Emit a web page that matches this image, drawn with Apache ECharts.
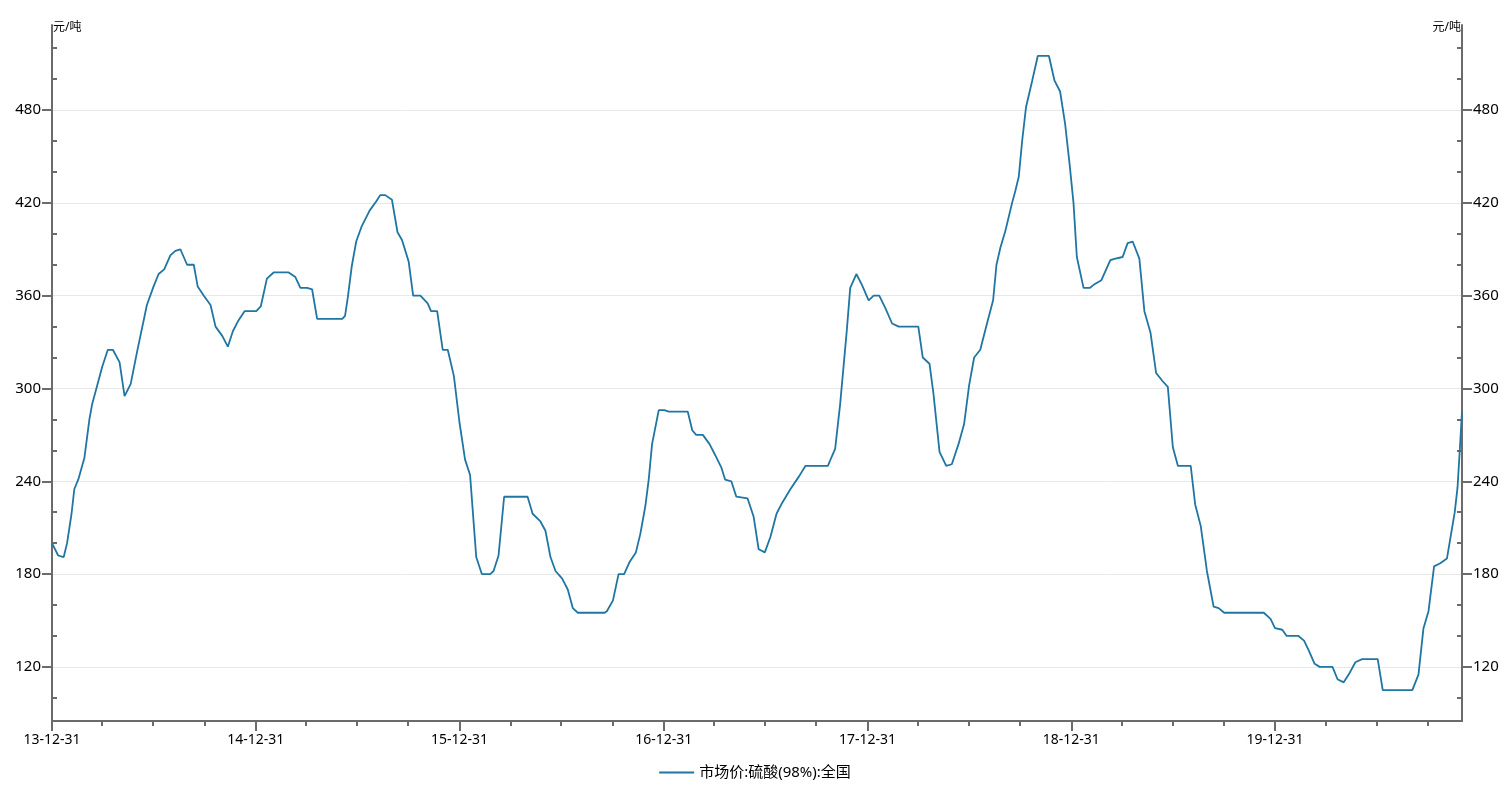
<!DOCTYPE html>
<html><head><meta charset="utf-8">
<script src="https://cdn.jsdelivr.net/npm/echarts@6/dist/echarts.min.js"></script>
<style>html,body{margin:0;padding:0;background:#fff}#chart{width:1510px;height:787px}</style>
</head><body><div id="chart"></div>
<script>
const seriesName = '市场价:硫酸(98%):全国';
const unitName = '元/吨';

const dates = [
'2013-12-31','2014-01-11','2014-01-21','2014-01-27','2014-02-04','2014-02-09','2014-02-16','2014-02-27','2014-03-08','2014-03-13','2014-03-31','2014-04-10','2014-04-19','2014-05-01','2014-05-10','2014-05-21','2014-06-01','2014-06-19','2014-07-01','2014-07-10','2014-07-20','2014-07-31','2014-08-09','2014-08-18','2014-08-30','2014-09-11','2014-09-18','2014-09-29','2014-10-11','2014-10-20','2014-11-01','2014-11-11','2014-11-20','2014-11-30','2014-12-11',
'2015-01-01','2015-01-09','2015-01-20','2015-02-01','2015-02-28','2015-03-12','2015-03-21','2015-04-02','2015-04-11','2015-04-20','2015-06-04','2015-06-09','2015-06-14','2015-06-21','2015-06-29','2015-07-09','2015-07-23','2015-08-04','2015-08-11','2015-08-20','2015-09-01','2015-09-11','2015-09-19','2015-10-01','2015-10-09','2015-10-22','2015-11-04','2015-11-10','2015-11-21','2015-12-01','2015-12-10','2015-12-21','2015-12-31',
'2016-01-10','2016-01-19','2016-01-30','2016-02-09','2016-02-24','2016-03-01','2016-03-10','2016-03-20','2016-05-01','2016-05-10','2016-05-24','2016-06-02','2016-06-11','2016-06-20','2016-07-02','2016-07-12','2016-07-21','2016-07-30','2016-09-16','2016-09-20','2016-10-01','2016-10-11','2016-10-21','2016-10-31','2016-11-11','2016-11-19','2016-11-28','2016-12-04','2016-12-10','2016-12-22',
'2017-01-01','2017-01-09','2017-02-12','2017-02-20','2017-02-27','2017-03-11','2017-03-23','2017-04-02','2017-04-13','2017-04-20','2017-05-01','2017-05-10','2017-05-30','2017-06-10','2017-06-19','2017-06-30','2017-07-10','2017-07-21','2017-07-31','2017-08-15','2017-08-30','2017-09-11','2017-10-21','2017-10-28','2017-11-03','2017-11-12','2017-11-24','2017-11-30','2017-12-11','2017-12-21',
'2018-01-02','2018-01-11','2018-01-21','2018-02-01','2018-02-13','2018-02-25','2018-04-01','2018-04-09','2018-04-21','2018-04-28','2018-05-09','2018-05-21','2018-05-31','2018-06-12','2018-06-22','2018-07-01','2018-07-10','2018-07-21','2018-08-02','2018-08-13','2018-08-19','2018-08-26','2018-09-04','2018-09-16','2018-09-22','2018-09-28','2018-10-04','2018-10-11','2018-10-22','2018-11-01','2018-11-21','2018-12-01','2018-12-11','2018-12-20','2018-12-28',
'2019-01-04','2019-01-10','2019-01-22','2019-02-02','2019-02-09','2019-02-23','2019-03-11','2019-03-20','2019-04-02','2019-04-11','2019-04-20','2019-05-02','2019-05-11','2019-05-22','2019-06-01','2019-06-12','2019-06-22','2019-07-01','2019-07-10','2019-08-02','2019-08-10','2019-08-20','2019-08-31','2019-09-12','2019-09-21','2019-10-01','2019-12-11','2019-12-23','2019-12-31',
'2020-01-13','2020-01-21','2020-02-11','2020-02-21','2020-02-29','2020-03-11','2020-03-20','2020-04-12','2020-04-21','2020-05-02','2020-05-11','2020-05-23','2020-06-04','2020-07-02','2020-07-11','2020-09-02','2020-09-13','2020-09-22','2020-10-01','2020-10-11','2020-10-22','2020-11-03','2020-11-10','2020-11-17','2020-11-22','2020-11-26','2020-11-30'
];

const prices = [
200,192,191,200,219,235,241,255,280,290,314,325,325,317,295,303,323,354,366,374,377,386,389,390,380,380,366,360,354,340,334,327,337,344,350,
350,353,371,375,375,372,365,365,364,345,345,347,359,379,395,405,415,421,425,425,422,401,396,382,360,360,355,350,350,325,325,308,278,
254,244,191,180,180,182,192,230,230,219,214,208,191,182,177,170,158,155,155,156,163,180,180,188,194,206,224,241,264,286,
286,285,285,273,270,270,264,257,249,241,240,230,229,217,196,194,204,219,226,235,243,250,250,256,261,290,338,365,374,367,
357,360,360,352,342,340,340,320,316,297,259,250,251,264,277,302,320,325,342,357,380,391,402,420,428,437,460,482,499,515,515,499,492,471,445,
420,385,365,365,367,370,383,384,385,394,395,384,350,336,310,305,301,262,250,250,225,211,182,159,158,155,155,151,145,
144,140,140,137,131,122,120,120,112,110,115,123,125,125,105,105,115,145,156,185,187,190,205,220,236,260,285
];

const xStart = '2013-12-31';
const xEnd = '2020-11-30';
const yearTickDates = ['2013-12-31','2014-12-31','2015-12-31','2016-12-31','2017-12-31','2018-12-31','2019-12-31'];
const quarterTickDates = [
'2014-03-31','2014-06-30','2014-09-30','2015-03-31','2015-06-30','2015-09-30',
'2016-03-31','2016-06-30','2016-09-30','2017-03-31','2017-06-30','2017-09-30',
'2018-03-31','2018-06-30','2018-09-30','2019-03-31','2019-06-30','2019-09-30',
'2020-03-31','2020-06-30','2020-09-30'
];
const yMin = 85, yMax = 535;
const yLabelValues = [120,180,240,300,360,420,480];
const yMinorTickValues = [100,140,160,200,220,260,280,320,340,380,400,440,460,500,520];

const toTs = s => Date.UTC(+s.slice(0,4), +s.slice(5,7)-1, +s.slice(8,10));
const pad = n => (n < 10 ? '0' : '') + n;
const fmtDate = v => { const d = new Date(v); return String(d.getUTCFullYear()).slice(2) + '-' + pad(d.getUTCMonth()+1) + '-' + pad(d.getUTCDate()); };

const FONT = "'Noto Sans', 'Noto Sans CJK SC', sans-serif";
const AXIS_COLOR = '#6b6b6b';
const LINE_COLOR = '#1f76a3';

const chart = echarts.init(document.getElementById('chart'), null, {renderer: 'canvas'});

function yAxisMajor(pos) {
  return {
    type: 'value', position: pos, min: yMin, max: yMax,
    name: unitName, nameLocation: 'end', nameGap: -3,
    nameTextStyle: {fontFamily: FONT, fontSize: 12, color: '#000', align: pos === 'left' ? 'left' : 'right', verticalAlign: 'middle', padding: pos === 'left' ? [0,0,0,1] : [0,1,0,0]},
    axisLine: {show: true, lineStyle: {color: AXIS_COLOR, width: 2}},
    axisTick: {show: true, customValues: yLabelValues, length: 10, lineStyle: {color: AXIS_COLOR, width: 2}},
    axisLabel: {show: true, customValues: yLabelValues, margin: 11, fontSize: 15, fontFamily: FONT, color: '#000'},
    splitLine: {show: pos === 'left', lineStyle: {color: '#e8e8e8', width: 1}}
  };
}
function yAxisMinor(pos) {
  return {
    type: 'value', position: pos, min: yMin, max: yMax,
    axisLine: {show: false},
    axisTick: {show: true, inside: true, customValues: yMinorTickValues, length: 5, lineStyle: {color: AXIS_COLOR, width: 2}},
    axisLabel: {show: false},
    splitLine: {show: false}
  };
}

chart.setOption({
  animation: false,
  backgroundColor: '#fff',
  grid: {left: 52, right: 48, top: 25, bottom: 66, containLabel: false},
  legend: {
    bottom: 2, left: 'center', data: [seriesName], icon: 'rect', itemWidth: 35, itemHeight: 2,
    textStyle: {fontFamily: FONT, fontSize: 15, color: '#000'}
  },
  xAxis: [
    {
      type: 'value', position: 'bottom', min: toTs(xStart), max: toTs(xEnd),
      axisLine: {show: true, lineStyle: {color: AXIS_COLOR, width: 2}},
      axisTick: {show: true, customValues: yearTickDates.map(toTs), length: 10, lineStyle: {color: AXIS_COLOR, width: 2}},
      axisLabel: {show: true, customValues: yearTickDates.map(toTs), formatter: fmtDate, margin: 12, fontSize: 14, fontFamily: FONT, color: '#000'},
      splitLine: {show: false}
    },
    {
      type: 'value', position: 'bottom', min: toTs(xStart), max: toTs(xEnd),
      axisLine: {show: false},
      axisTick: {show: true, customValues: quarterTickDates.map(toTs), length: 5, lineStyle: {color: AXIS_COLOR, width: 2}},
      axisLabel: {show: false},
      splitLine: {show: false}
    }
  ],
  yAxis: [yAxisMajor('left'), yAxisMinor('left'), yAxisMajor('right'), yAxisMinor('right')],
  series: [{
    name: seriesName, type: 'line', xAxisIndex: 0, yAxisIndex: 0,
    data: dates.map((d, i) => [toTs(d), prices[i]]),
    symbol: 'none', showSymbol: false,
    lineStyle: {color: LINE_COLOR, width: 1.8},
    itemStyle: {color: LINE_COLOR}
  }]
});
</script>
</body></html>
